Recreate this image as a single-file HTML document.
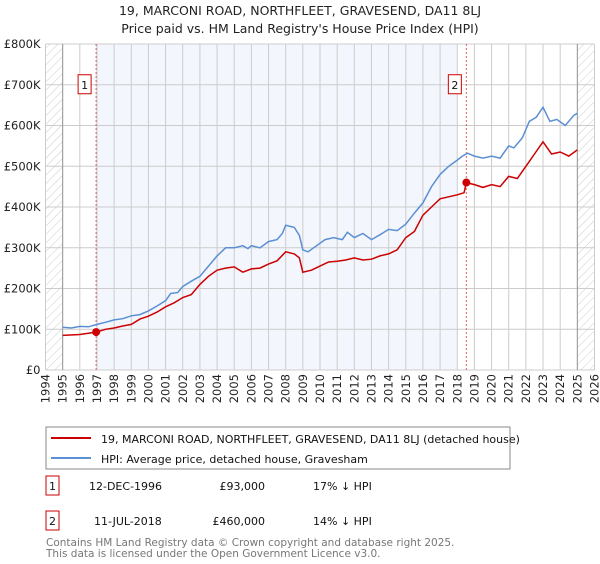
<!DOCTYPE html>
<html><head><meta charset="utf-8"><style>
body{margin:0;background:#fff;font-family:"DejaVu Sans","Liberation Sans",sans-serif;}
svg text{font-family:"DejaVu Sans","Liberation Sans",sans-serif;}
</style></head><body>
<svg id="c" width="600" height="560" xmlns="http://www.w3.org/2000/svg">
<defs><pattern id="hatch" width="6" height="6" patternUnits="userSpaceOnUse" patternTransform="rotate(45)"><line x1="0" y1="0" x2="0" y2="6" stroke="#ccc" stroke-width="1"/></pattern></defs>
<text x="300" y="15" text-anchor="middle" font-size="12.5" fill="#222">19, MARCONI ROAD, NORTHFLEET, GRAVESEND, DA11 8LJ</text>
<text x="300" y="33" text-anchor="middle" font-size="12.5" fill="#222">Price paid vs. HM Land Registry's House Price Index (HPI)</text>
<g id="plot"></g>
<g>
<rect x="46" y="427" width="464" height="42" fill="#fff" stroke="#888"/>
<line x1="51" y1="438" x2="91" y2="438" stroke="#cc0000" stroke-width="2"/>
<text x="101" y="443" font-size="11" fill="#111">19, MARCONI ROAD, NORTHFLEET, GRAVESEND, DA11 8LJ (detached house)</text>
<line x1="51" y1="458" x2="91" y2="458" stroke="#5b8fd4" stroke-width="2"/>
<text x="101" y="463" font-size="11" fill="#111">HPI: Average price, detached house, Gravesham</text>
</g>
<g font-size="11" fill="#111">
<rect x="46" y="476" width="13" height="19" fill="#fff" stroke="#cc0000"/>
<text x="52.5" y="490" text-anchor="middle">1</text>
<text x="89" y="490">12-DEC-1996</text>
<text x="265" y="490" text-anchor="end">£93,000</text>
<text x="313" y="490">17% ↓ HPI</text>
<rect x="46" y="511" width="13" height="19" fill="#fff" stroke="#cc0000"/>
<text x="52.5" y="525" text-anchor="middle">2</text>
<text x="94" y="525">11-JUL-2018</text>
<text x="265" y="525" text-anchor="end">£460,000</text>
<text x="313" y="525">14% ↓ HPI</text>
</g>
<text x="46" y="546" font-size="10.5" fill="#777">Contains HM Land Registry data © Crown copyright and database right 2025.</text>
<text x="46" y="557" font-size="10.5" fill="#777">This data is licensed under the Open Government Licence v3.0.</text>
</svg>
<script>
const hpiYears=[1995,1995.5,1996,1996.5,1997,1997.5,1998,1998.5,1999,1999.5,2000,2000.5,2001,2001.3,2001.7,2002,2002.5,2003,2003.5,2004,2004.5,2005,2005.5,2005.8,2006,2006.5,2007,2007.5,2007.8,2008,2008.5,2008.8,2009,2009.3,2009.8,2010.3,2010.8,2011.3,2011.6,2012,2012.5,2013,2013.5,2014,2014.5,2015,2015.5,2016,2016.5,2017,2017.5,2018,2018.3,2018.6,2019,2019.5,2020,2020.5,2021,2021.3,2021.8,2022.2,2022.6,2023,2023.4,2023.8,2024.3,2024.8,2025];
const hpiValues=[105,103,107,106,112,117,123,126,133,136,145,157,170,188,190,205,218,230,255,280,300,300,305,298,305,300,315,320,335,355,350,330,295,290,305,320,325,320,338,325,335,320,332,345,342,358,385,410,450,480,500,515,525,532,525,520,525,520,550,545,570,610,620,645,610,615,600,625,630];
const propYears=[1995,1996,1996.95,1997.5,1998,1998.5,1999,1999.5,2000,2000.5,2001,2001.5,2002,2002.5,2003,2003.5,2004,2004.5,2005,2005.5,2006,2006.5,2007,2007.5,2008,2008.5,2008.8,2009,2009.5,2010,2010.5,2011,2011.5,2012,2012.5,2013,2013.5,2014,2014.5,2015,2015.5,2016,2016.5,2017,2017.5,2018,2018.4,2018.53,2019,2019.5,2020,2020.5,2021,2021.5,2022,2022.5,2023,2023.5,2024,2024.5,2025];
const propValues=[85,87,93,100,103,108,112,125,132,142,155,165,178,185,210,230,245,250,253,240,248,250,260,268,290,285,275,240,245,255,265,267,270,275,270,272,280,285,295,325,340,380,400,420,425,430,435,460,455,448,455,450,475,470,500,530,560,530,535,525,540];
const saleYears=[1996.95,2018.53];
const saleValues=[93,460];
const saleLabels=["1","2"];
const yTicks=[0,100,200,300,400,500,600,700,800];
const yTickLabels=["£0","£100K","£200K","£300K","£400K","£500K","£600K","£700K","£800K"];
const xTickYears=[1994,1995,1996,1997,1998,1999,2000,2001,2002,2003,2004,2005,2006,2007,2008,2009,2010,2011,2012,2013,2014,2015,2016,2017,2018,2019,2020,2021,2022,2023,2024,2025,2026];

const L=45.5,R=594.5,T=44,B=370,x0=1994,x1=2026,ymax=800;
const X=v=>L+(v-x0)/(x1-x0)*(R-L);
const Y=v=>B-v/ymax*(B-T);
const NS="http://www.w3.org/2000/svg";
const g=document.getElementById('plot');
function mk(tag,attrs){const e=document.createElementNS(NS,tag);for(const k in attrs)e.setAttribute(k,attrs[k]);g.appendChild(e);return e;}
let e;
e=mk('rect',{x:L,y:T,width:R-L,height:B-T,fill:'#fff'});


e=mk('rect',{x:X(saleYears[0]),y:T,width:X(2018)-X(saleYears[0]),height:B-T,fill:'#f3f6fd'});


e=mk('rect',{x:L,y:T,width:X(1995)-L,height:B-T,fill:'url(#hatch)'});


e=mk('rect',{x:X(2025),y:T,width:R-X(2025),height:B-T,fill:'url(#hatch)'});


xTickYears.forEach((yr,i)=>{
  e=mk('line',{x1:X(yr),y1:T,x2:X(yr),y2:B,stroke:'#ccc','stroke-width':1});
  
  
  e=mk('text',{x:0,y:0,'font-size':11.5,fill:'#222','text-anchor':'end',transform:`translate(${X(yr)+4},${B+4}) rotate(-90)`});
  e.textContent=yr;
  
  
});
yTicks.forEach((v,i)=>{
  e=mk('line',{x1:L,y1:Y(v),x2:R,y2:Y(v),stroke:'#ccc','stroke-width':1});
  
  
  e=mk('text',{x:L-5,y:Y(v)+4,'font-size':11.5,fill:'#222','text-anchor':'end'});
  e.textContent=yTickLabels[i];
  
  
});
[1995,2025].forEach(yr=>{
  e=mk('line',{x1:X(yr),y1:T,x2:X(yr),y2:B,stroke:'#999','stroke-width':1});
  
  
});
saleYears.forEach((yr,i)=>{
  e=mk('line',{x1:X(yr),y1:T,x2:X(yr),y2:B,stroke:'#e06060','stroke-width':1,'stroke-dasharray':'2,2'});
  
  
});
function path(xs,vs){return xs.map((x,i)=>(i?'L':'M')+X(x).toFixed(1)+','+Y(vs[i]).toFixed(1)).join('');}
e=mk('path',{d:path(hpiYears,hpiValues),fill:'none',stroke:'#5b8fd4','stroke-width':1.5});


e=mk('path',{d:path(propYears,propValues),fill:'none',stroke:'#cc0000','stroke-width':1.5});


saleYears.forEach((yr,i)=>{
  e=mk('circle',{cx:X(yr),cy:Y(saleValues[i]),r:4,fill:'#cc0000'});
  
  
  e=mk('rect',{x:X(yr)-18,y:Y(700)-10,width:13,height:19,fill:'#fff',stroke:'#cc0000'});
  
  
  e=mk('text',{x:X(yr)-11.5,y:Y(700)+4,'font-size':11,fill:'#111','text-anchor':'middle'});
  e.textContent=saleLabels[i];
  
  
});
</script>
</body></html>
